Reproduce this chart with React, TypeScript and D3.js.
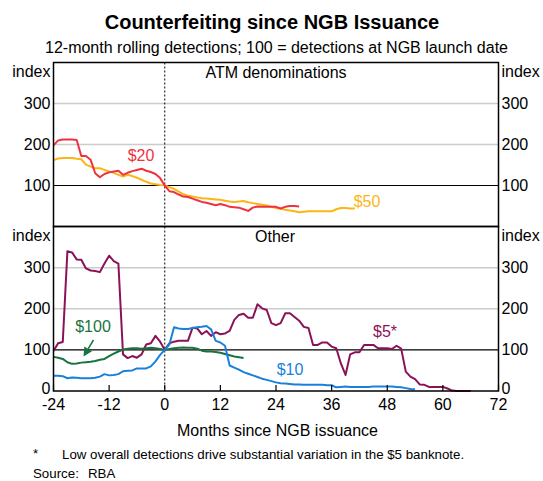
import React from "react";
import * as d3 from "d3";

// ---- Data (monthly, starting at month -24) ----
const startMonth = -24;
const xTicks = [-24, -12, 0, 12, 24, 36, 48, 60, 72];
const topYTicks = [100, 200, 300];
const bottomYTicks = [0, 100, 200, 300];

const atm20 = [198, 210, 212, 212, 212, 211, 172, 172, 163, 130, 120, 128, 132, 134, 136, 126, 131, 135, 138, 141, 136, 133, 128, 118, 100,
  86, 84, 78, 73, 72, 68, 64, 60, 58, 55, 52, 55, 52, 48, 47, 46, 42, 38, 46, 49, 48, 48, 48, 48, 44, 48, 50, 50, 49];
const atm50 = [162, 166, 167, 167, 167, 165, 164, 151, 146, 142, 142, 138, 134, 131, 126, 122, 126, 123, 119, 114, 109, 105, 103, 101, 100,
  96, 92, 85, 79, 75, 73, 71, 69, 68, 67, 66, 65, 63, 61, 60, 61, 62, 59, 57, 55, 53, 51, 48, 45, 43, 41, 39, 37, 35, 36, 37, 37, 37, 37, 37, 37, 42, 45, 45, 44, 44];
const other5 = [97, 116, 119, 340, 337, 320, 319, 298, 293, 292, 289, 310, 329, 316, 310, 89, 80, 85, 81, 89, 113, 116, 134, 120, 100,
  116, 120, 122, 122, 122, 154, 152, 138, 146, 134, 143, 138, 140, 146, 173, 185, 188, 178, 178, 211, 201, 197, 165, 160, 165, 189, 189, 180, 171, 156, 153,
  112, 112, 118, 118, 108, 104, 67, 39, 89, 94, 94, 112, 112, 112, 104, 104, 104, 102, 110, 103, 47, 35, 29, 16, 15, 10, 10, 10, 10, 6, 1, 0, 0, 0, 0];
const other10 = [37, 37, 36, 31, 33, 32, 31, 31, 31, 32, 35, 41, 38, 39, 41, 48, 49, 50, 55, 55, 55, 60, 72, 88, 100,
  113, 155, 152, 151, 151, 153, 155, 156, 158, 150, 122, 118, 110, 62, 57, 52, 46, 42, 38, 34, 30, 27, 24, 21, 19, 18, 17, 16, 16, 15, 15, 15, 15, 15, 14, 14,
  9, 10, 11, 10, 10, 10, 10, 10, 11, 11, 11, 11, 11, 10, 9, 7, 5, 4];
const other100 = [83, 81, 78, 70, 66, 67, 69, 70, 71, 73, 76, 78, 85, 91, 96, 101, 103, 104, 104, 103, 104, 105, 104, 102, 100,
  102, 104, 105, 106, 105, 105, 103, 98, 96, 96, 95, 93, 90, 87, 84, 82, 80];

const RED = "#ee3340";
const ORANGE = "#fdb515";
const PURPLE = "#8c1257";
const BLUE = "#1a80dc";
const GREEN = "#18743f";

const FONT = "Arial, 'Liberation Sans', sans-serif";

const W = 543, H = 481;
const L = 53.5, R = 498.5;
const T1 = 62.5, B1 = 226.5, T2 = 226.5, B2 = 391;

export default function App() {
  const x = d3.scaleLinear().domain([-24, 72]).range([L, R]);
  const yTop = d3.scaleLinear().domain([0, 400]).range([B1, T1]);
  const yBot = d3.scaleLinear().domain([0, 400]).range([B2, T2]);

  const mkLine = (y: d3.ScaleLinear<number, number>) =>
    d3.line<number>().x((_, i) => x(startMonth + i)).y((v) => y(v));
  const lineTop = mkLine(yTop);
  const lineBot = mkLine(yBot);

  // arrow for $100
  const a0 = [93.5, 340], a1 = [83.5, 356.5];
  const ang = Math.atan2(a1[1] - a0[1], a1[0] - a0[0]);
  const hl = 9, hw = 4.5;
  const bx = a1[0] - hl * Math.cos(ang), by = a1[1] - hl * Math.sin(ang);
  const head = [
    [a1[0], a1[1]],
    [bx + hw * Math.sin(ang), by - hw * Math.cos(ang)],
    [bx - hw * Math.sin(ang), by + hw * Math.cos(ang)],
  ].map((p) => p.join(",")).join(" ");

  const grid = (y: d3.ScaleLinear<number, number>, vals: number[]) =>
    vals.map((v) => (
      <line key={v} x1={L} x2={R} y1={y(v)} y2={y(v)} stroke={v === 100 ? "#000" : "#cccccc"} strokeWidth={v === 100 ? 1.2 : 1.5} />
    ));

  const yLabels = (y: d3.ScaleLinear<number, number>, vals: number[]) =>
    vals.map((v) => (
      <g key={v}>
        <text x={L - 3} y={y(v) - (v === 0 ? 3 : 0)} dy="0.35em" textAnchor="end">{v}</text>
        <text x={R + 3} y={y(v) - (v === 0 ? 3 : 0)} dy="0.35em" textAnchor="start">{v}</text>
      </g>
    ));

  return (
    <svg width={W} height={H} style={{ position: "absolute", left: 0, top: 0, background: "#fff" }} fontFamily={FONT}>
      <rect x={0} y={0} width={W} height={H} fill="#fff" />
      <text x={272} y={29} textAnchor="middle" fontSize={20} fontWeight="bold">Counterfeiting since NGB Issuance</text>
      <text x={276.5} y={53} textAnchor="middle" fontSize={16}>12-month rolling detections; 100 = detections at NGB launch date</text>

      {/* gridlines */}
      {grid(yTop, [200, 300])}
      {grid(yBot, [200, 300])}
      {grid(yTop, [100])}
      {grid(yBot, [100])}

      {/* zero vertical dotted */}
      <line x1={x(0)} x2={x(0)} y1={T1} y2={B2} stroke="#000" strokeWidth={1} strokeDasharray="2,2" />

      {/* lines top */}
      <path d={lineTop(atm50) || ""} fill="none" stroke={ORANGE} strokeWidth={2} strokeLinejoin="round" />
      <path d={lineTop(atm20) || ""} fill="none" stroke={RED} strokeWidth={2} strokeLinejoin="round" />

      {/* lines bottom */}
      <path d={lineBot(other5) || ""} fill="none" stroke={PURPLE} strokeWidth={2} strokeLinejoin="round" />
      <path d={lineBot(other100) || ""} fill="none" stroke={GREEN} strokeWidth={2} strokeLinejoin="round" />
      <path d={lineBot(other10) || ""} fill="none" stroke={BLUE} strokeWidth={2} strokeLinejoin="round" />

      {/* frames */}
      <rect x={L} y={T1} width={R - L} height={B1 - T1} fill="none" stroke="#000" strokeWidth={1.5} />
      <rect x={L} y={T2} width={R - L} height={B2 - T2} fill="none" stroke="#000" strokeWidth={1.5} />

      {/* x ticks */}
      {xTicks.map((t) => (
        <g key={t}>
          <line x1={x(t)} x2={x(t)} y1={B2} y2={B2 - 6} stroke="#000" strokeWidth={1.2} />
          <text x={x(t)} y={410} textAnchor="middle" fontSize={16}>{t}</text>
        </g>
      ))}

      {/* y labels */}
      <g fontSize={16}>
        {yLabels(yTop, topYTicks)}
        {yLabels(yBot, bottomYTicks)}
        <text x={L - 3} y={77} textAnchor="end">index</text>
        <text x={R + 3} y={77} textAnchor="start">index</text>
        <text x={L - 3} y={241} textAnchor="end">index</text>
        <text x={R + 3} y={241} textAnchor="start">index</text>
        <text x={276} y={77.5} textAnchor="middle">ATM denominations</text>
        <text x={275} y={241.5} textAnchor="middle">Other</text>
      </g>

      {/* series labels */}
      <g fontSize={16}>
        <text x={141} y={161} textAnchor="middle" fill={RED}>$20</text>
        <text x={367} y={207} textAnchor="middle" fill={ORANGE}>$50</text>
        <text x={93} y={332} textAnchor="middle" fill={GREEN}>$100</text>
        <text x={290} y={375} textAnchor="middle" fill={BLUE}>$10</text>
        <text x={385} y={337} textAnchor="middle" fill={PURPLE}>$5*</text>
      </g>

      {/* arrow */}
      <line x1={a0[0]} y1={a0[1]} x2={bx} y2={by} stroke={GREEN} strokeWidth={1.5} />
      <polygon points={head} fill={GREEN} />

      <text x={277.5} y={436} textAnchor="middle" fontSize={16}>Months since NGB issuance</text>

      <g fontSize={13.3}>
        <text x={33} y={458}>*</text>
        <text x={62} y={459}>Low overall detections drive substantial variation in the $5 banknote.</text>
        <text x={33} y={478}>Source:</text>
        <text x={88} y={478}>RBA</text>
      </g>
    </svg>
  );
}
